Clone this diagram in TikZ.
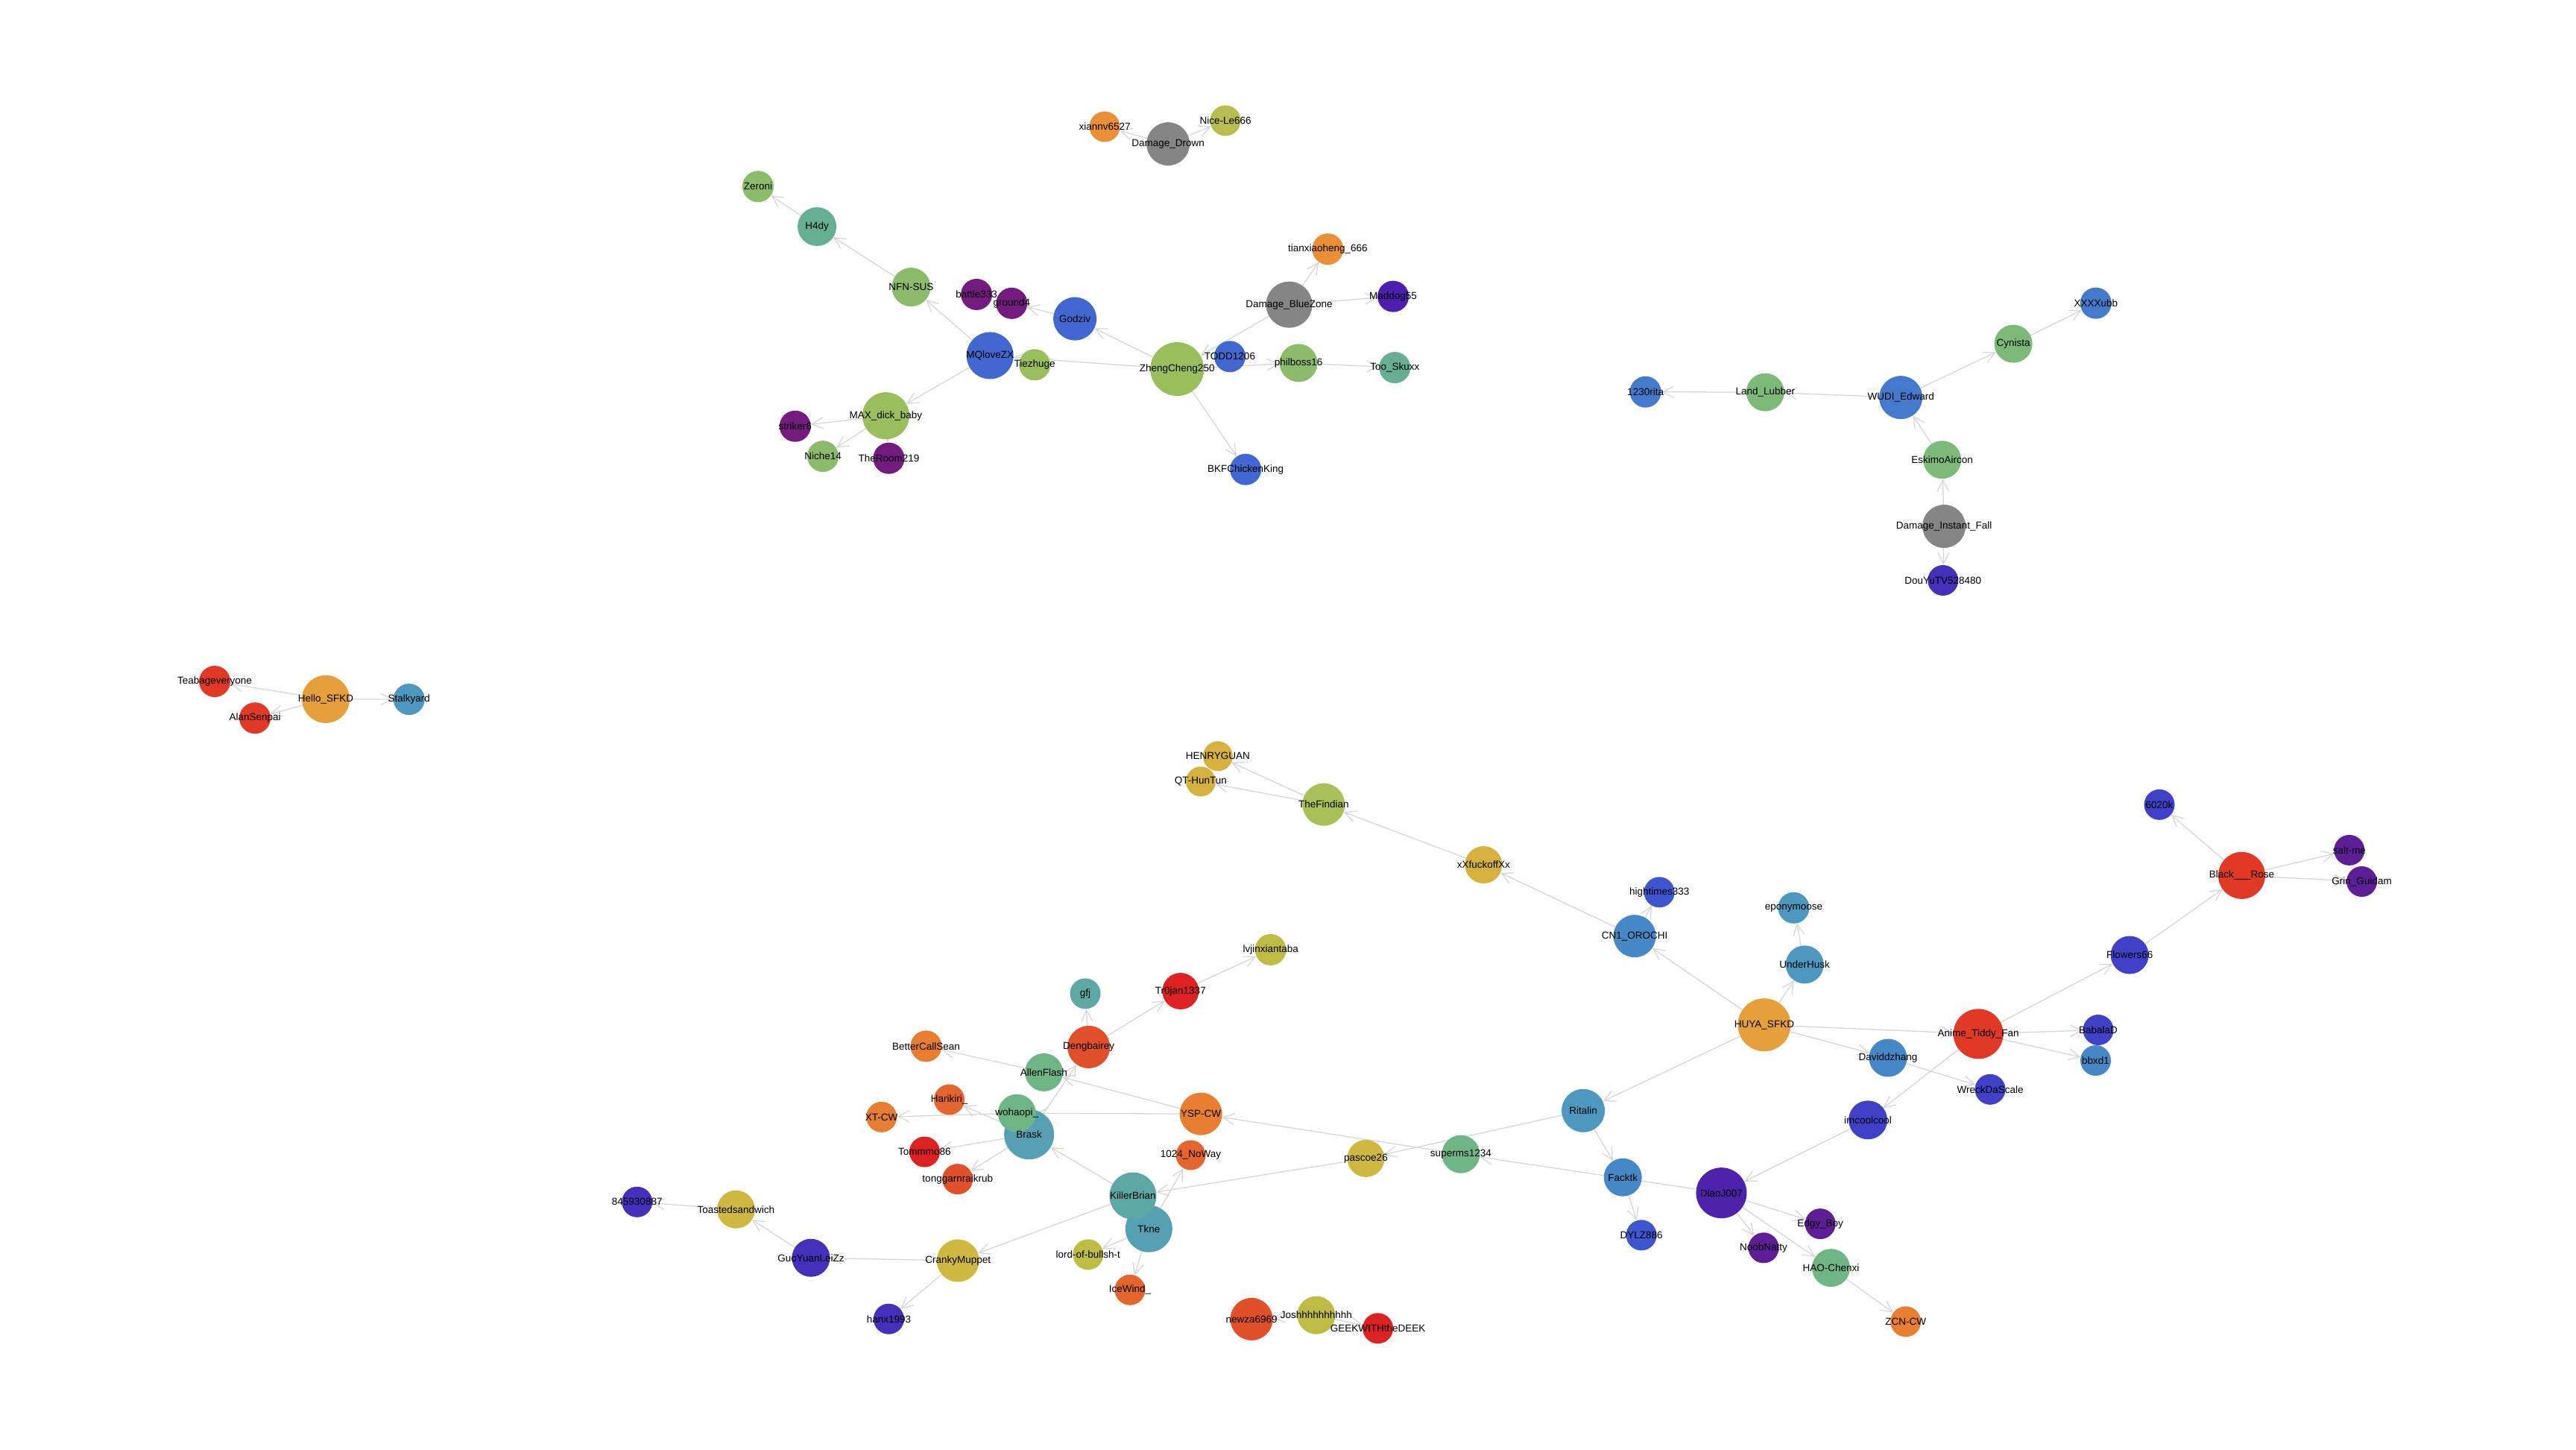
\documentclass[tikz,border=0pt]{standalone}
\usepackage{fontspec}
\setmainfont{Liberation Sans}
\usetikzlibrary{arrows.meta}

\pgfdeclarelayer{edges}
\pgfdeclarelayer{labels}
\pgfsetlayers{edges,main,labels}

% --- Kleuren ---
\definecolor{edgegray}{HTML}{D6D6D6}
\definecolor{cgray}{HTML}{858585}
\definecolor{corange}{HTML}{E88F38}
\definecolor{colive}{HTML}{B8BD4E}
\definecolor{cgreen}{HTML}{8CBB6B}
\definecolor{cteal}{HTML}{66AF93}
\definecolor{cpurple}{HTML}{741B80}
\definecolor{cblue}{HTML}{4267D0}
\definecolor{clime}{HTML}{9ABD5E}
\definecolor{cindigo}{HTML}{4B20AE}
\definecolor{cblue2}{HTML}{4479CC}
\definecolor{cgreen2}{HTML}{7DB978}
\definecolor{cviolet}{HTML}{4430BA}
\definecolor{cred}{HTML}{E03A26}
\definecolor{camber}{HTML}{E5A03C}
\definecolor{csteel}{HTML}{4E97BE}
\definecolor{cyellow}{HTML}{D5B13F}
\definecolor{clime2}{HTML}{A9BF58}
\definecolor{cblue3}{HTML}{3F56CE}
\definecolor{csteel2}{HTML}{4688C5}
\definecolor{cindblue}{HTML}{4040C8}
\definecolor{cplum}{HTML}{5E1E96}
\definecolor{cdiao}{HTML}{4E22AA}
\definecolor{cmint}{HTML}{70B586}
\definecolor{ctangerine}{HTML}{E87E32}
\definecolor{cflame}{HTML}{E5652E}
\definecolor{cvermil}{HTML}{E0502A}
\definecolor{ccrimson}{HTML}{DC2222}
\definecolor{cmustard}{HTML}{CFB842}
\definecolor{colive2}{HTML}{BFBC46}
\definecolor{cteal2}{HTML}{5DA8A5}
\definecolor{cteal3}{HTML}{56A0B4}

\begin{document}
\begin{tikzpicture}[x=2.204pt, y=-2.204pt]

% --- Stijlen ---
\tikzset{
    user/.style={
        circle,
        draw=none,
        inner sep=0pt,
        minimum size=#1
    },
    naam/.style={
        text=black,
        font=\fontsize{13.5}{15}\selectfont,
        inner sep=0pt
    },
    link/.style={
        -{Straight Barb[length=15pt, width=15pt]},
        line width=1.3pt,
        draw=edgegray
    }
}

\useasboundingbox (0,0) rectangle (1568,882);

% --- Bovenste groep ---
\node[user=41, fill=corange] (xiannv) at (672.4,77.1) {};
\node[user=58, fill=cgray] (ddrown) at (711,87.6) {};
\node[user=41, fill=colive] (nicele) at (745.9,73.4) {};
\node[user=42, fill=cgreen] (zeroni) at (461.4,113.5) {};
\node[user=52, fill=cteal] (h4dy) at (497.3,137.9) {};
\node[user=52, fill=cgreen] (nfnsus) at (554.6,174.7) {};
\node[user=42, fill=cpurple] (battle) at (594.4,179.2) {};
\node[user=42, fill=cpurple] (ground) at (615.8,184.6) {};
\node[user=58, fill=cblue] (godziv) at (654.3,194) {};
\node[user=63, fill=cblue] (mqlove) at (602.6,216.4) {};
\node[user=42, fill=clime] (tiezhuge) at (629.8,222) {};
\node[user=72, fill=clime] (zheng) at (716.5,224.6) {};
\node[user=42, fill=cblue] (todd) at (748.6,217) {};
\node[user=51, fill=cgreen] (philboss) at (790.4,220.9) {};
\node[user=42, fill=cteal] (skuxx) at (849,223.7) {};
\node[user=62, fill=cgray] (bluezone) at (784.7,185.4) {};
\node[user=42, fill=corange] (tianxiao) at (808.2,151.6) {};
\node[user=42, fill=cindigo] (maddog) at (848,180.4) {};
\node[user=42, fill=cblue] (bkf) at (758.2,285.7) {};
\node[user=63, fill=clime] (maxdick) at (539.2,253) {};
\node[user=42, fill=cpurple] (striker) at (484,259.4) {};
\node[user=42, fill=cgreen] (niche) at (500.9,277.7) {};
\node[user=42, fill=cpurple] (theroom) at (541,278.9) {};

% --- Rechts boven ---
\node[user=42, fill=cblue2] (rita) at (1001.6,238.5) {};
\node[user=51, fill=cgreen2] (lubber) at (1074.5,238.7) {};
\node[user=58, fill=cblue2] (wudi) at (1157,241.9) {};
\node[user=51, fill=cgreen2] (cynista) at (1225.5,209.2) {};
\node[user=42, fill=cblue2] (xxxxubb) at (1275.7,184.5) {};
\node[user=51, fill=cgreen2] (eskimo) at (1182.2,279.8) {};
\node[user=58, fill=cgray] (instfall) at (1183.3,320.3) {};
\node[user=41, fill=cviolet] (douyu) at (1182.7,353.2) {};

% --- Links ---
\node[user=42, fill=cred] (teabag) at (130.7,414.7) {};
\node[user=42, fill=cred] (alan) at (155.2,437) {};
\node[user=64, fill=camber] (hellosfkd) at (198.3,425.5) {};
\node[user=42, fill=csteel] (stalk) at (249,425.6) {};

% --- Onderste groep ---
\node[user=40, fill=cyellow] (henry) at (741.3,460.2) {};
\node[user=40, fill=cyellow] (qthun) at (730.9,475.6) {};
\node[user=57, fill=clime2] (findian) at (805.7,489.6) {};
\node[user=50, fill=cyellow] (xxfuck) at (903,526.3) {};
\node[user=41, fill=cblue3] (hightimes) at (1010,543) {};
\node[user=57, fill=csteel2] (orochi) at (995,569.7) {};
\node[user=42, fill=csteel] (epony) at (1091.8,552.5) {};
\node[user=51, fill=csteel] (underhusk) at (1098.5,587) {};
\node[user=71, fill=camber] (huya) at (1073.9,623.7) {};
\node[user=51, fill=csteel2] (davidd) at (1149.2,643.8) {};
\node[user=67, fill=cred] (anime) at (1204.2,629.2) {};
\node[user=51, fill=cindblue] (flowers) at (1296.3,581.2) {};
\node[user=63, fill=cred] (blackrose) at (1364.5,532.8) {};
\node[user=41, fill=cindblue] (k6020) at (1314.4,489.7) {};
\node[user=41, fill=cplum] (saltme) at (1430,517.4) {};
\node[user=41, fill=cplum] (grin) at (1437.6,536.5) {};
\node[user=41, fill=cindblue] (babala) at (1277.2,626.8) {};
\node[user=41, fill=csteel2] (bbxd) at (1275.6,645.4) {};
\node[user=41, fill=cindblue] (wreck) at (1211.4,663) {};
\node[user=52, fill=cindblue] (imcool) at (1137,681.6) {};
\node[user=68, fill=cdiao] (diao) at (1047.8,726) {};
\node[user=41, fill=cplum] (edgy) at (1108,744.8) {};
\node[user=41, fill=cplum] (noob) at (1073.5,759.4) {};
\node[user=51, fill=cmint] (haochen) at (1114.5,771.6) {};
\node[user=41, fill=ctangerine] (zcn) at (1160,804.3) {};
\node[user=51, fill=csteel2] (facktk) at (987.8,716.5) {};
\node[user=41, fill=cblue3] (dylz) at (999.1,751.7) {};
\node[user=58, fill=csteel] (ritalin) at (963.7,675.9) {};
\node[user=51, fill=cmint] (superms) at (889.2,702.4) {};
\node[user=50, fill=cmustard] (pascoe) at (831.4,705) {};
\node[user=57, fill=ctangerine] (yspcw) at (731,677.9) {};
\node[user=40, fill=cflame] (noway) at (724.8,703) {};
\node[user=63, fill=cteal3] (tkne) at (699.3,747.8) {};
\node[user=63, fill=cteal2] (killer) at (689.6,727.8) {};
\node[user=41, fill=colive2] (lordof) at (662.3,763.5) {};
\node[user=41, fill=cflame] (icewind) at (687.8,785) {};
\node[user=67, fill=cteal3] (brask) at (626.4,690.4) {};
\node[user=51, fill=cmint] (wohaopi) at (619,677.5) {};
\node[user=51, fill=cmint] (allen) at (635.4,652.6) {};
\node[user=57, fill=cvermil] (deng) at (662.7,637.2) {};
\node[user=41, fill=cteal2] (gfj) at (660.6,604.7) {};
\node[user=49, fill=ccrimson] (trojan) at (718.6,603.2) {};
\node[user=42, fill=colive2] (lvjin) at (773.4,578) {};
\node[user=42, fill=ctangerine] (better) at (563.7,636.7) {};
\node[user=41, fill=cflame] (harikiri) at (577.8,669.2) {};
\node[user=41, fill=ctangerine] (xtcw) at (536.6,679.8) {};
\node[user=41, fill=ccrimson] (tommmo) at (562.8,701) {};
\node[user=41, fill=cvermil] (tonggarn) at (582.9,717.6) {};
\node[user=57, fill=cmustard] (cranky) at (583.1,767.2) {};
\node[user=51, fill=cviolet] (guoyuan) at (493.6,765.5) {};
\node[user=51, fill=cmustard] (toasted) at (448,736) {};
\node[user=41, fill=cviolet] (n845) at (387.8,731.5) {};
\node[user=41, fill=cviolet] (hanx) at (541,802.7) {};
\node[user=57, fill=cvermil] (newza) at (761.8,802.8) {};
\node[user=51, fill=colive2] (josh) at (801.2,800.4) {};
\node[user=41, fill=ccrimson] (geek) at (838.7,808.4) {};

% --- Namen ---
\begin{pgfonlayer}{labels}
\foreach \n/\t in {xiannv/xiannv6527, ddrown/Damage\_Drown, nicele/Nice-Le666,
    zeroni/Zeroni, h4dy/H4dy, nfnsus/NFN-SUS, battle/battle333, ground/ground4,
    godziv/Godziv, mqlove/MQloveZX, tiezhuge/Tiezhuge, zheng/ZhengCheng250,
    todd/TODD1206, philboss/philboss16, skuxx/Too\_Skuxx, bluezone/Damage\_BlueZone,
    tianxiao/tianxiaoheng\_666, maddog/Maddog55, bkf/BKFChickenKing,
    maxdick/MAX\_dick\_baby, striker/striker6, niche/Niche14, theroom/TheRoom219,
    rita/1230rita, lubber/Land\_Lubber, wudi/WUDI\_Edward, cynista/Cynista,
    xxxxubb/XXXXubb, eskimo/EskimoAircon, instfall/Damage\_Instant\_Fall,
    douyu/DouYuTV528480, teabag/Teabageveryone, alan/AlanSenpai,
    hellosfkd/Hello\_SFKD, stalk/Stalkyard, henry/HENRYGUAN, qthun/QT-HunTun,
    findian/TheFindian, xxfuck/xXfuckoffXx, hightimes/hightimes333,
    orochi/CN1\_OROCHI, epony/eponymoose, underhusk/UnderHusk, huya/HUYA\_SFKD,
    davidd/Daviddzhang, anime/Anime\_Tiddy\_Fan, flowers/Flowers66,
    blackrose/Black\_\_\_Rose, k6020/6020k, saltme/salt-me, grin/Grin\_Guidam,
    babala/BabalaD, bbxd/bbxd1, wreck/WreckDaScale, imcool/imcoolcool,
    diao/DiaoJ007, edgy/Edgy\_Boy, noob/NoobNatty, haochen/HAO-Chenxi,
    zcn/ZCN-CW, facktk/Facktk, dylz/DYLZ886, ritalin/Ritalin,
    superms/superms1234, pascoe/pascoe26, yspcw/YSP-CW, noway/1024\_NoWay,
    tkne/Tkne, killer/KillerBrian, lordof/lord-of-bullsh-t, icewind/IceWind\_,
    brask/Brask, wohaopi/wohaopi\_, allen/AllenFlash, deng/Dengbairey, gfj/gfj,
    trojan/Tr0jan1337, lvjin/lvjinxiantaba, better/BetterCallSean,
    harikiri/Harikiri\_, xtcw/XT-CW, tommmo/Tommmo86, tonggarn/tonggarnraikrub,
    cranky/CrankyMuppet, guoyuan/GuoYuanLeiZz, toasted/Toastedsandwich,
    n845/845930887, hanx/hanx1993, newza/newza6969, josh/Joshhhhhhhhhh,
    geek/GEEKWITHtheDEEK}
    \node[naam] (\n-t) at (\n) {\t};
\end{pgfonlayer}

% --- Pijlen ---
\begin{pgfonlayer}{edges}
\draw[link] (ddrown) -- (xiannv);
\draw[link] (ddrown) -- (nicele);
\draw[link] (h4dy) -- (zeroni);
\draw[link] (nfnsus) -- (h4dy);
\draw[link] (mqlove) -- (nfnsus);
\draw[link] (godziv) -- (ground);
\draw[link] (zheng) -- (godziv);
\draw[link] (zheng) -- (mqlove);
\draw[link] (mqlove) -- (maxdick);
\draw[link] (maxdick) -- (striker);
\draw[link] (maxdick) -- (niche);
\draw[link] (maxdick) -- (theroom);
\draw[link] (bluezone) -- (zheng);
\draw[link] (bluezone) -- (tianxiao);
\draw[link] (bluezone) -- (maddog);
\draw[link] (zheng) -- (philboss);
\draw[link] (philboss) -- (skuxx);
\draw[link] (zheng) -- (bkf);

\draw[link] (lubber) -- (rita);
\draw[link] (wudi) -- (lubber);
\draw[link] (wudi) -- (cynista);
\draw[link] (cynista) -- (xxxxubb);
\draw[link] (eskimo) -- (wudi);
\draw[link] (instfall) -- (eskimo);
\draw[link] (instfall) -- (douyu);

\draw[link] (hellosfkd) -- (teabag);
\draw[link] (hellosfkd) -- (alan);
\draw[link] (hellosfkd) -- (stalk);

\draw[link] (findian) -- (henry);
\draw[link] (findian) -- (qthun);
\draw[link] (xxfuck) -- (findian);
\draw[link] (orochi) -- (xxfuck);
\draw[link] (orochi) -- (hightimes);
\draw[link] (huya) -- (orochi);
\draw[link] (underhusk) -- (epony);
\draw[link] (huya) -- (underhusk);
\draw[link] (huya) -- (anime);
\draw[link] (huya) -- (davidd);
\draw[link] (davidd) -- (wreck);
\draw[link] (anime) -- (flowers);
\draw[link] (anime) -- (babala);
\draw[link] (anime) -- (bbxd);
\draw[link] (anime) -- (imcool);
\draw[link] (flowers) -- (blackrose);
\draw[link] (blackrose) -- (k6020);
\draw[link] (blackrose) -- (saltme);
\draw[link] (blackrose) -- (grin);
\draw[link] (huya) -- (ritalin);
\draw[link] (imcool) -- (diao);
\draw[link] (diao) -- (edgy);
\draw[link] (diao) -- (noob);
\draw[link] (diao) -- (haochen);
\draw[link] (haochen) -- (zcn);
\draw[link] (diao) -- (superms);
\draw[link] (ritalin) -- (facktk);
\draw[link] (facktk) -- (dylz);
\draw[link] (ritalin) -- (pascoe);
\draw[link] (superms) -- (yspcw);
\draw[link] (pascoe) -- (killer);
\draw[link] (killer) -- (brask);
\draw[link] (killer) -- (cranky);
\draw[link] (tkne) -- (noway);
\draw[link] (tkne) -- (lordof);
\draw[link] (tkne) -- (icewind);
\draw[link] (yspcw) -- (allen);
\draw[link] (yspcw) -- (wohaopi);
\draw[link] (wohaopi) -- (xtcw);
\draw[link] (brask) -- (harikiri);
\draw[link] (brask) -- (tommmo);
\draw[link] (brask) -- (tonggarn);
\draw[link] (brask) -- (deng);
\draw[link] (allen) -- (better);
\draw[link] (deng) -- (gfj);
\draw[link] (deng) -- (trojan);
\draw[link] (trojan) -- (lvjin);
\draw[link] (cranky) -- (guoyuan);
\draw[link] (cranky) -- (hanx);
\draw[link] (guoyuan) -- (toasted);
\draw[link] (toasted) -- (n845);
\draw[link] (josh) -- (newza);
\draw[link] (josh) -- (geek);
\end{pgfonlayer}
\end{tikzpicture}
\end{document}
